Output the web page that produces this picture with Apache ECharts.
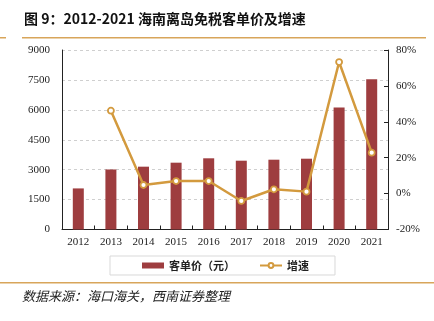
<!DOCTYPE html>
<html><head><meta charset="utf-8">
<script src="https://cdn.jsdelivr.net/npm/echarts@6/dist/echarts.min.js"></script>
<style>html,body{margin:0;padding:0;background:#fff}#c{width:434px;height:321px}</style>
</head><body><div id="c"></div>
<script>
const categories = ['2012','2013','2014','2015','2016','2017','2018','2019','2020','2021'];
const perCustomer = [2060, 3010, 3150, 3350, 3570, 3450, 3500, 3550, 6120, 7530];
const growth = [null, 46.2, 4.8, 7.0, 7.0, -4.1, 2.4, 1.1, 73.3, 22.8];
const leftTicks = [0, 1500, 9000];
const rightTicks = [-20, 20, 80];

const chart = echarts.init(document.getElementById('c'));
const serif = 'Liberation Serif';
chart.setOption({
  animation: false,
  textStyle: {fontFamily: serif},
  grid: {left: 62, right: 46, top: 50, bottom: 91.5},
  legend: {
    left: 110, top: 256,
    padding: [4, 26, 4, 32],
    borderColor: '#d9d9d9', borderWidth: 1,
    itemGap: 24,
    itemWidth: 22, itemHeight: 6,
    textStyle: {fontFamily: 'Noto Sans CJK SC', fontWeight: 'bold', fontSize: 11, color: '#222'},
    data: [{name: '客单价（元）', icon: 'rect'}, {name: '增速'}]
  },
  xAxis: {
    type: 'category', data: categories,
    axisLine: {lineStyle: {color: '#222', width: 1}},
    axisTick: {show: true, inside: true, length: 4, lineStyle: {color: '#222'}},
    axisLabel: {color: '#222', fontSize: 11, fontFamily: serif, margin: 7}
  },
  yAxis: [{
    type: 'value', min: leftTicks[0], max: leftTicks[2], interval: leftTicks[1],
    axisLine: {show: true, lineStyle: {color: '#222'}},
    axisTick: {show: false},
    axisLabel: {color: '#222', fontSize: 11, fontFamily: serif, margin: 12, formatter: v => String(v)},
    splitLine: {show: true, lineStyle: {color: '#cfcfcf', type: [3, 3], width: 1}}
  }, {
    type: 'value', min: rightTicks[0], max: rightTicks[2], interval: rightTicks[1],
    position: 'right',
    axisLine: {show: true, lineStyle: {color: '#222'}},
    axisTick: {show: true, inside: true, length: 4, lineStyle: {color: '#222'}},
    axisLabel: {color: '#222', fontSize: 11, fontFamily: serif, margin: 8, formatter: '{value}%'},
    splitLine: {show: false}
  }],
  series: [{
    name: '客单价（元）', type: 'bar', data: perCustomer, barWidth: 11,
    itemStyle: {color: '#9e3d3f'}
  }, {
    name: '增速', type: 'line', yAxisIndex: 1, data: growth,
    symbol: 'circle', symbolSize: 6, showSymbol: true,
    lineStyle: {color: '#d39a3e', width: 2.5},
    itemStyle: {color: '#fff', borderColor: '#d39a3e', borderWidth: 1.8}
  }],
  graphic: [
    {type: 'text', left: 24, top: 12, style: {text: '图 9：2012-2021 海南离岛免税客单价及增速', font: 'bold 14px "Noto Sans CJK SC"', fill: '#111'}},
    {type: 'rect', shape: {x: 22, y: 37, width: 404, height: 1.5}, style: {fill: '#d8a55a'}},
    {type: 'rect', shape: {x: 0, y: 37, width: 6, height: 1.5}, style: {fill: '#d8a55a'}},
    {type: 'rect', shape: {x: 0, y: 282, width: 434, height: 1.5}, style: {fill: '#d8a55a'}},
    {type: 'text', left: 22, top: 290, style: {text: '数据来源：海口海关，西南证券整理', font: 'italic 13px "Noto Sans CJK SC"', fill: '#222'}}
  ]
});
</script></body></html>
